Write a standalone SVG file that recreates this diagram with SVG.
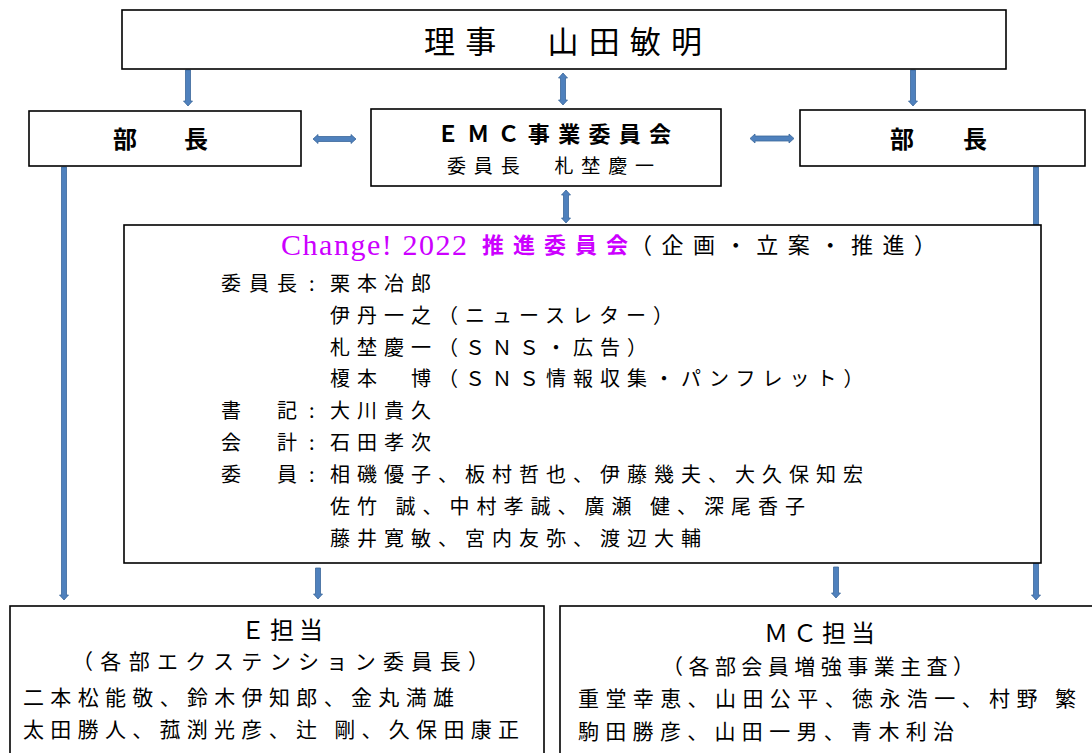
<svg xmlns="http://www.w3.org/2000/svg" width="1092" height="753" viewBox="0 0 1092 753">
<style>
.box{fill:#fff;stroke:#000;stroke-width:1.6}
.arr{fill:#4f81bd;stroke:#3b679a;stroke-width:0.8}
text{font-family:'Noto Sans CJK JP','Noto Sans CJK SC',sans-serif;fill:#000}
.b{font-weight:700}
.mg{fill:#cc00ff}
.ser{font-family:'Liberation Serif','Times New Roman',serif}
.mem{font-size:20px;letter-spacing:7px}
.lab{font-size:20px;letter-spacing:8px}
.bot{font-size:21px}
</style>
<rect width="1092" height="753" fill="#fff"/>
<g id="connectors">
<polygon class="arr" points="185.5,70 190.5,70 190.5,101 192.5,101 188,106 183.5,101 185.5,101"/>
<polygon class="arr" points="910.5,70 915.5,70 915.5,101 917.5,101 913,106 908.5,101 910.5,101"/>
<polygon class="arr" points="563,73 567.5,78 565.5,78 565.5,100 567.5,100 563,105 558.5,100 560.5,100 560.5,78 558.5,78"/>
<polygon class="arr" points="313,139 318,134.5 318,136.5 351,136.5 351,134.5 356,139 351,143.5 351,141.5 318,141.5 318,143.5"/>
<polygon class="arr" points="750,138.5 755,134 755,136 789,136 789,134 794,138.5 789,143 789,141 755,141 755,143"/>
<polygon class="arr" points="566,190 570.5,195 568.5,195 568.5,218 570.5,218 566,223 561.5,218 563.5,218 563.5,195 561.5,195"/>
<polygon class="arr" points="61.5,167 66.5,167 66.5,595 68.5,595 64,600 59.5,595 61.5,595"/>
<polygon class="arr" points="1033.5,167 1038.5,167 1038.5,595 1040.5,595 1036,600 1031.5,595 1033.5,595"/>
<polygon class="arr" points="315.5,568 320.5,568 320.5,594 322.5,594 318,599 313.5,594 315.5,594"/>
<polygon class="arr" points="833.5,567 838.5,567 838.5,593 840.5,593 836,598 831.5,593 833.5,593"/>
</g>
<g id="rijie">
<rect class="box" x="122" y="10" width="884" height="59"/>
<text x="424" y="53" font-size="31" textLength="278" lengthAdjust="spacing">理事　山田敏明</text>
</g>
<g id="buchou-left">
<rect class="box" x="29" y="111" width="272" height="55"/>
<text class="b" x="113" y="148" font-size="24" textLength="95" lengthAdjust="spacing">部　長</text>
</g>
<g id="buchou-right">
<rect class="box" x="800" y="110" width="285" height="56"/>
<text class="b" x="890" y="148" font-size="24" textLength="97" lengthAdjust="spacing">部　長</text>
</g>
<g id="emc">
<rect class="box" x="371" y="109" width="350" height="77"/>
<text class="b" x="437" y="142" font-size="22" textLength="234" lengthAdjust="spacing">ＥＭＣ事業委員会</text>
<text x="447" y="173" font-size="19" textLength="207" lengthAdjust="spacing">委員長　札埜慶一</text>
</g>
<g id="change">
<rect class="box" x="124" y="225" width="917" height="338"/>
<text class="ser mg" x="281" y="255" font-size="30" textLength="186" lengthAdjust="spacing">Change! 2022</text>
<text class="mg b" x="482" y="253" font-size="22" textLength="146" lengthAdjust="spacing">推進委員会</text>
<text x="630" y="253" font-size="22" textLength="306" lengthAdjust="spacing">（企画・立案・推進）</text>
<text class="lab" x="221" y="291">委員長</text><text x="309" y="291" font-size="20">:</text>
<text class="mem" x="330" y="291">栗本冶郎</text>
<text class="mem" x="330" y="323">伊丹一之（ニュースレター）</text>
<text class="mem" x="330" y="355">札埜慶一（ＳＮＳ・広告）</text>
<text class="mem" x="330" y="386">榎本　博（ＳＮＳ情報収集・パンフレット）</text>
<text class="lab" x="221" y="418">書　記</text><text x="309" y="418" font-size="20">:</text>
<text class="mem" x="330" y="418">大川貴久</text>
<text class="lab" x="221" y="450">会　計</text><text x="309" y="450" font-size="20">:</text>
<text class="mem" x="330" y="450">石田孝次</text>
<text class="lab" x="221" y="482">委　員</text><text x="309" y="482" font-size="20">:</text>
<text class="mem" x="330" y="482">相磯優子、板村哲也、伊藤幾夫、大久保知宏</text>
<text class="mem" x="330" y="514">佐竹 誠、中村孝誠、廣瀬 健、深尾香子</text>
<text class="mem" x="330" y="546">藤井寛敏、宮内友弥、渡辺大輔</text>
</g>
<g id="e-tantou">
<rect class="box" x="10" y="606" width="534" height="170"/>
<text x="241" y="639" font-size="24" letter-spacing="5">Ｅ担当</text>
<text class="bot" x="72" y="669" textLength="417" lengthAdjust="spacing">（各部エクステンション委員長）</text>
<text class="bot" x="23" y="705" textLength="431" lengthAdjust="spacing">二本松能敬、鈴木伊知郎、金丸満雄</text>
<text class="bot" x="23" y="737" textLength="496" lengthAdjust="spacing">太田勝人、菰渕光彦、辻 剛、久保田康正</text>
</g>
<g id="mc-tantou">
<rect class="box" x="560" y="606" width="545" height="170"/>
<text x="764" y="642" font-size="24" letter-spacing="5">ＭＣ担当</text>
<text class="bot" x="662" y="674" textLength="312" lengthAdjust="spacing">（各部会員増強事業主査）</text>
<text class="bot" x="578" y="706" textLength="498" lengthAdjust="spacing">重堂幸恵、山田公平、徳永浩一、村野 繁</text>
<text class="bot" x="578" y="739" textLength="376" lengthAdjust="spacing">駒田勝彦、山田一男、青木利治</text>
</g>
</svg>
